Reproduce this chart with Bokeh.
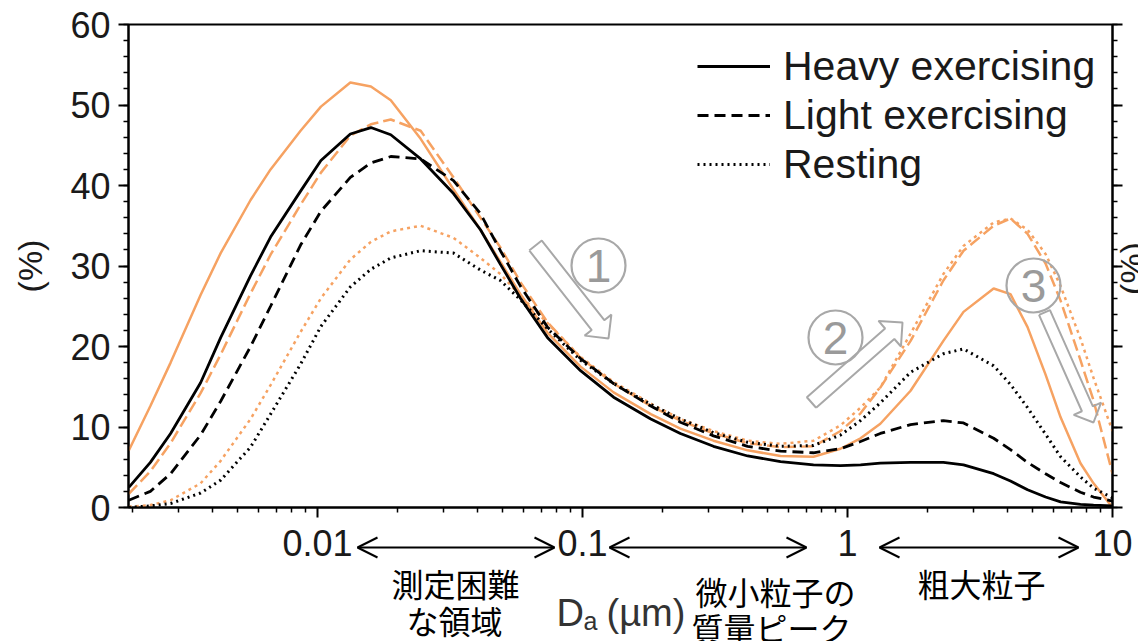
import math
from bokeh.plotting import figure
from bokeh.models import (Range1d, FixedTicker, LinearAxis, Legend, LegendItem,
                          Arrow, OpenHead)
from bokeh.core.properties import value
from bokeh.embed import file_html
from bokeh.resources import INLINE

# ---------------- data ----------------
diameter_um = [0.00194, 0.00234, 0.00279, 0.00362, 0.00431, 0.00559, 0.00665, 0.00863,
               0.0103, 0.0133, 0.0159, 0.0189, 0.0245, 0.0326, 0.0412, 0.0490, 0.0583,
               0.0738, 0.0983, 0.131, 0.181, 0.234, 0.312, 0.420, 0.559, 0.744, 0.941,
               1.12, 1.33, 1.73, 2.30, 2.74, 3.56, 4.12, 4.78, 5.59, 6.37, 7.57, 8.48, 10.0]

heavy_black = [2.5, 5.6, 9.2, 15.5, 21.1, 28.8, 33.6, 39.3, 43.1, 46.4, 47.2, 46.3, 43.3,
               39.0, 34.5, 30.2, 26.0, 21.1, 17.0, 13.7, 11.0, 9.2, 7.6, 6.4, 5.7, 5.3,
               5.2, 5.3, 5.5, 5.6, 5.6, 5.3, 4.2, 3.3, 2.2, 1.3, 0.7, 0.4, 0.3, 0.2]
light_black = [0.9, 2.0, 4.2, 9.0, 13.2, 20.0, 25.0, 32.6, 36.8, 41.0, 42.8, 43.6, 43.3,
               40.6, 36.5, 31.9, 27.5, 22.4, 18.5, 15.4, 12.6, 10.6, 8.9, 7.6, 7.0, 6.8,
               7.3, 8.2, 9.2, 10.3, 10.8, 10.5, 8.6, 7.2, 5.6, 4.2, 3.1, 1.9, 1.3, 0.8]
resting_black = [0.0, 0.2, 0.5, 1.8, 3.4, 7.5, 11.6, 17.8, 22.5, 27.4, 29.6, 31.0, 31.9,
                 31.6, 29.5, 28.2, 25.8, 22.2, 18.3, 15.4, 12.8, 11.0, 9.3, 8.1, 7.6, 7.7,
                 9.0, 10.8, 13.0, 16.8, 19.1, 19.7, 17.6, 15.3, 12.4, 9.1, 6.3, 3.8, 2.4, 1.2]
heavy_orange = [7.1, 12.6, 18.0, 26.4, 31.6, 38.2, 42.0, 46.8, 49.8, 52.8, 52.3, 50.6, 45.8,
                39.5, 34.5, 30.5, 26.5, 21.7, 17.5, 14.3, 11.6, 9.8, 8.3, 7.1, 6.4, 6.3,
                7.3, 8.6, 10.4, 14.5, 20.7, 24.3, 27.2, 26.5, 22.4, 16.5, 11.2, 5.5, 3.0, 0.0]
light_orange = [1.7, 4.5, 8.0, 14.2, 19.0, 26.6, 31.4, 37.6, 41.6, 46.2, 47.6, 48.2, 46.8,
                41.0, 36.0, 32.3, 28.0, 23.0, 18.6, 15.4, 12.6, 10.8, 9.2, 8.0, 7.5, 7.6,
                9.5, 11.7, 14.9, 20.7, 28.2, 31.9, 35.0, 35.9, 34.0, 30.3, 25.7, 18.3, 13.3, 4.2]
resting_orange = [0.1, 0.3, 0.9, 3.0, 5.8, 11.0, 15.2, 21.8, 26.0, 30.8, 33.0, 34.3, 35.0,
                  33.5, 31.0, 29.0, 26.3, 22.9, 18.7, 15.6, 12.9, 11.0, 9.5, 8.3, 7.9, 8.3,
                  10.2, 12.4, 14.9, 21.6, 29.0, 32.5, 35.4, 35.9, 34.5, 31.5, 27.5, 21.0, 16.1, 9.5]

legend_labels = ["Heavy exercising", "Light exercising", "Resting"]
x_tick_values = [0.01, 0.1, 1, 10]
x_tick_labels = ["0.01", "0.1", "1", "10"]
y_tick_values = [0, 10, 20, 30, 40, 50, 60]
y_tick_labels = ["0", "10", "20", "30", "40", "50", "60"]
circled_numbers = ["1", "2", "3"]
jp_labels = ["測定困難", "な領域", "微小粒子の", "質量ピーク", "粗大粒子"]

# ---------------- layout (page pixels) ----------------
W, H = 1138, 641
FL, FR, FT, FB = 128, 1112, 24, 507
X_MIN, X_MAX = 0.001935, 10.0
Y_MIN, Y_MAX = 0.0, 60.0


def px_x(px):
    lo, hi = math.log10(X_MIN), math.log10(X_MAX)
    return 10 ** (lo + (px - FL) / (FR - FL) * (hi - lo))


def px_y(py):
    return Y_MIN + (FB - py) / (FB - FT) * (Y_MAX - Y_MIN)


ORANGE = "#F6A262"
GREY = "#A8A8A8"
TXT = "#1a1a1a"

p = figure(x_axis_type="log", x_range=Range1d(X_MIN, X_MAX), y_range=Range1d(Y_MIN, Y_MAX),
           frame_width=FR - FL, frame_height=FB - FT,
           min_border_left=FL, min_border_right=W - FR, min_border_top=FT,
           min_border_bottom=H - FB, output_backend="svg", toolbar_location=None)
p.xgrid.visible = False
p.ygrid.visible = False
p.outline_line_color = "black"
p.outline_line_width = 2
p.background_fill_color = "white"
p.border_fill_color = "white"

minor_x = [m * 10 ** e for e in range(-3, 1) for m in range(2, 10) if X_MIN <= m * 10 ** e <= X_MAX]
xa = p.xaxis[0]
xa.ticker = FixedTicker(ticks=x_tick_values, minor_ticks=minor_x)
xa.major_label_overrides = {v: l for v, l in zip(x_tick_values, x_tick_labels)}
ya = p.yaxis[0]
ya.ticker = FixedTicker(ticks=y_tick_values, minor_ticks=list(range(0, 61, 2)))
ya.major_label_overrides = {v: l for v, l in zip(y_tick_values, y_tick_labels)}
ya.axis_label = "(%)"
ya.axis_label_text_font = "Liberation Sans"
ya.axis_label_text_font_style = "normal"
ya.axis_label_text_font_size = "34px"
ya.axis_label_text_color = TXT
ya.axis_label_standoff = 18

for ax in (xa, ya):
    ax.axis_line_width = 2
    ax.axis_line_color = "black"
    ax.major_tick_line_width = 2
    ax.minor_tick_line_width = 1.5
    ax.major_tick_out = 10
    ax.major_tick_in = 0
    ax.minor_tick_out = 5
    ax.minor_tick_in = 0
    ax.major_label_text_font = "Liberation Sans"
    ax.major_label_text_font_size = "36px"
    ax.major_label_text_color = TXT
xa.major_label_standoff = 12
ya.major_label_standoff = 8

ra = LinearAxis(ticker=FixedTicker(ticks=y_tick_values, minor_ticks=list(range(0, 61, 2))))
ra.axis_line_width = 2
ra.major_tick_line_width = 2
ra.minor_tick_line_width = 1.5
ra.major_tick_out = 10
ra.major_tick_in = 0
ra.minor_tick_out = 5
ra.minor_tick_in = 0
ra.major_label_text_font_size = "0px"
ra.major_label_standoff = 0
p.add_layout(ra, "right")

# curves (orange first, black on top)
p.line(diameter_um, heavy_orange, line_color=ORANGE, line_width=2.5)
p.line(diameter_um, light_orange, line_color=ORANGE, line_width=2.5, line_dash="12 5")
p.line(diameter_um, resting_orange, line_color=ORANGE, line_width=2.5, line_dash="3 4")
r_h = p.line(diameter_um, heavy_black, line_color="black", line_width=2.8)
r_l = p.line(diameter_um, light_black, line_color="black", line_width=2.8, line_dash="11 6")
r_r = p.line(diameter_um, resting_black, line_color="black", line_width=3, line_dash="2 4")

legend = Legend(items=[LegendItem(label=legend_labels[0], renderers=[r_h]),
                       LegendItem(label=legend_labels[1], renderers=[r_l]),
                       LegendItem(label=legend_labels[2], renderers=[r_r])],
                location=(569, 319))
legend.glyph_width = 73
legend.glyph_height = 48
legend.label_height = 48
legend.label_standoff = 13
legend.spacing = 1
legend.padding = 0
legend.margin = 0
legend.border_line_color = None
legend.background_fill_alpha = 0
legend.label_text_font = "Liberation Sans"
legend.label_text_font_size = "41px"
legend.label_text_color = TXT
p.add_layout(legend)


# grey hollow block arrows with circled numbers
def block_arrow(tail, tip, w, h, L):
    tx, ty = tail
    qx, qy = tip
    dx, dy = qx - tx, qy - ty
    n = math.hypot(dx, dy)
    ux, uy = dx / n, dy / n
    nx, ny = -uy, ux
    hx, hy = qx - ux * L, qy - uy * L
    pts = [(tx + nx * w, ty + ny * w), (hx + nx * w, hy + ny * w), (hx + nx * h, hy + ny * h),
           (qx, qy), (hx - nx * h, hy - ny * h), (hx - nx * w, hy - ny * w),
           (tx - nx * w, ty - ny * w), (tx + nx * w, ty + ny * w)]
    return [px_x(a) for a, b in pts], [px_y(b) for a, b in pts]


arrow_specs = [((535, 245), (608, 338), 8, 17, 17),
               ((811, 402), (902, 322), 7, 17, 17),
               ((1044, 312), (1093, 422), 6, 15, 15)]
for tail, tip, w, h, L in arrow_specs:
    xs, ys = block_arrow(tail, tip, w, h, L)
    p.line(xs, ys, line_color=GREY, line_width=2)

circle_px = [(598, 265), (835, 337), (1033, 285)]
cx = [px_x(a) for a, b in circle_px]
cy = [px_y(b) for a, b in circle_px]
p.scatter(cx, cy, marker="circle", size=54, fill_color=None, line_color=GREY, line_width=2.2)
p.text(cx, cy, text=circled_numbers, text_align="center", text_baseline="middle",
       text_font=value("Liberation Sans"), text_font_size="46px", text_color="#9a9a9a")

# ---------------- transparent overlay for texts outside the plot frame ----------------
ov = figure(width=W, height=H, x_range=Range1d(0, W), y_range=Range1d(H, 0),
            min_border=0, min_border_left=0, min_border_right=0, min_border_top=0,
            min_border_bottom=0, x_axis_location=None, y_axis_location=None,
            output_backend="svg", toolbar_location=None)
ov.xgrid.visible = False
ov.ygrid.visible = False
ov.outline_line_color = None
ov.background_fill_alpha = 0
ov.border_fill_alpha = 0
ov.margin = (-H, 0, 0, 0)

# x-axis title D_a (µm)
ov.text([556], [612], text=["D"], text_baseline="alphabetic", text_align="left",
        text_font=value("Liberation Sans"), text_font_size="38px", text_color="#333333")
ov.text([583], [620], text=["a"], text_baseline="alphabetic", text_align="left",
        text_font=value("Liberation Sans"), text_font_size="25px", text_color="#333333")
ov.text([606], [612], text=["(µm)"], text_baseline="alphabetic", text_align="left",
        text_font=value("Liberation Sans"), text_font_size="38px", text_color="#333333")

# right axis title (cut by the page edge)
ov.text([1131], [268], text=["(%)"], angle=math.pi / 2, text_align="center",
        text_baseline="middle", text_font=value("Liberation Sans"), text_font_size="34px",
        text_color=TXT)

# double-headed range arrows
for a, b in [(357, 554), (609, 806), (879, 1078)]:
    ov.add_layout(Arrow(x_start=a, y_start=547, x_end=b, y_end=547,
                        start=OpenHead(size=20, line_width=2, line_color="black"),
                        end=OpenHead(size=20, line_width=2, line_color="black"),
                        line_width=2, line_color="black"))

jp_x = [455, 454, 775, 771, 981]
jp_y = [582, 619, 590, 626, 582]
ov.text(jp_x, jp_y, text=jp_labels, text_align="center", text_baseline="middle",
        text_font=value("Noto Sans CJK JP"), text_font_size="32px", text_color="black")

open("out.html", "w").write(file_html([p, ov], INLINE))
